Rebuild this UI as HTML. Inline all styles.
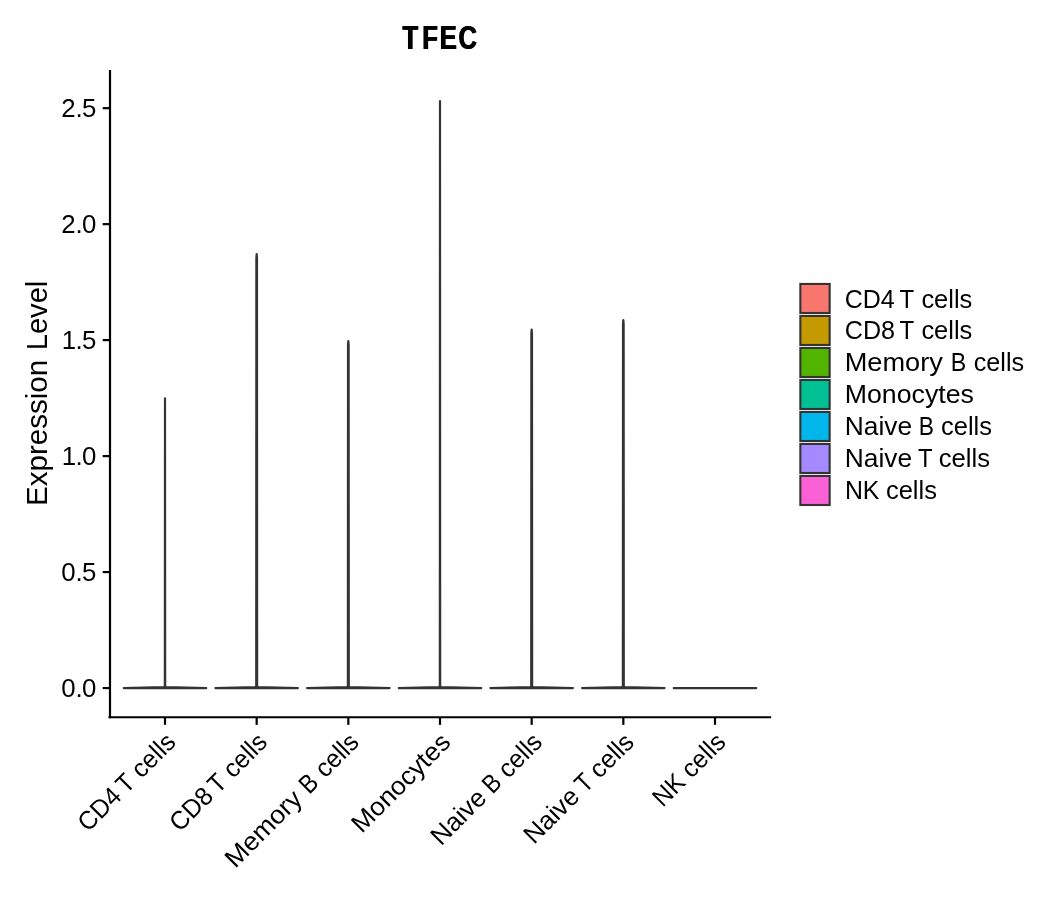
<!DOCTYPE html>
<html lang="en">
<head>
<meta charset="utf-8">
<title>TFEC</title>
<style>
html,body{margin:0;padding:0;background:#fff;}
body{width:1050px;height:900px;overflow:hidden;}
svg{display:block;}
text{font-family:"Liberation Sans", sans-serif;fill:#000;}
</style>
</head>
<body>
<svg width="1050" height="900" viewBox="0 0 1050 900">
<rect x="0" y="0" width="1050" height="900" fill="#ffffff"/>
<g fill="none" stroke="#333333" stroke-width="2.20" stroke-linejoin="round" stroke-linecap="round">
<path d="M123.75 688.05 L164.30 687.05 L164.85 685.85 L165.00 402.40 L165.00 398.40 L165.00 402.40 L165.15 685.85 L165.70 687.05 L206.25 688.05 Z" fill="#F8766D"/>
<path d="M215.42 688.05 L255.67 687.05 L256.22 685.85 L256.37 258.00 L256.67 254.00 L256.97 258.00 L257.12 685.85 L257.67 687.05 L297.92 688.05 Z" fill="#C49A00"/>
<path d="M307.08 688.05 L347.33 687.05 L347.88 685.85 L348.03 345.00 L348.33 341.00 L348.63 345.00 L348.78 685.85 L349.33 687.05 L389.58 688.05 Z" fill="#53B400"/>
<path d="M398.75 688.05 L439.30 687.05 L439.85 685.85 L440.00 105.00 L440.00 101.00 L440.00 105.00 L440.15 685.85 L440.70 687.05 L481.25 688.05 Z" fill="#00C094"/>
<path d="M490.42 688.05 L530.67 687.05 L531.22 685.85 L531.37 333.50 L531.67 329.50 L531.97 333.50 L532.12 685.85 L532.67 687.05 L572.92 688.05 Z" fill="#00B6EB"/>
<path d="M582.08 688.05 L622.33 687.05 L622.88 685.85 L623.03 324.00 L623.33 320.00 L623.63 324.00 L623.78 685.85 L624.33 687.05 L664.58 688.05 Z" fill="#A58AFF"/>
<path d="M673.75 688.05 L756.25 688.05 Z" fill="#FB61D7"/>
</g>
<g stroke="#000000" stroke-width="2.20" fill="none">
<path d="M110.00 70.00 L110.00 718.35" />
<path d="M108.50 717.25 L771.10 717.25" />
<path d="M102.70 688.05 L110.00 688.05" />
<path d="M102.70 572.07 L110.00 572.07" />
<path d="M102.70 456.10 L110.00 456.10" />
<path d="M102.70 340.12 L110.00 340.12" />
<path d="M102.70 224.15 L110.00 224.15" />
<path d="M102.70 108.17 L110.00 108.17" />
<path d="M165.00 717.25 L165.00 724.85" />
<path d="M256.67 717.25 L256.67 724.85" />
<path d="M348.33 717.25 L348.33 724.85" />
<path d="M440.00 717.25 L440.00 724.85" />
<path d="M531.67 717.25 L531.67 724.85" />
<path d="M623.33 717.25 L623.33 724.85" />
<path d="M715.00 717.25 L715.00 724.85" />
</g>
<text x="61.13 75.38 81.95" y="697.05" font-size="25.80">0.0</text>
<text x="61.13 75.38 81.95" y="581.07" font-size="25.80">0.5</text>
<text x="61.83 75.38 81.95" y="465.10" font-size="25.80">1.0</text>
<text x="61.83 75.38 81.95" y="349.12" font-size="25.80">1.5</text>
<text x="61.13 75.38 81.95" y="233.15" font-size="25.80">2.0</text>
<text x="61.13 75.38 81.95" y="117.17" font-size="25.80">2.5</text>
<text transform="translate(176.30 744.45) rotate(-45)" font-size="25.80" y="0"><tspan x="-124.90" textLength="49.37" lengthAdjust="spacingAndGlyphs">CD4</tspan> <tspan x="-70.83" textLength="14.07" lengthAdjust="spacingAndGlyphs">T</tspan> <tspan x="-49.27" textLength="50.29" lengthAdjust="spacingAndGlyphs">cells</tspan></text>
<text transform="translate(267.97 744.45) rotate(-45)" font-size="25.80" y="0"><tspan x="-124.91" textLength="49.62" lengthAdjust="spacingAndGlyphs">CD8</tspan> <tspan x="-70.83" textLength="14.07" lengthAdjust="spacingAndGlyphs">T</tspan> <tspan x="-49.27" textLength="50.29" lengthAdjust="spacingAndGlyphs">cells</tspan></text>
<text transform="translate(359.63 744.45) rotate(-45)" font-size="25.80" y="0"><tspan x="-176.05" textLength="96.84" lengthAdjust="spacingAndGlyphs">Memory</tspan> <tspan x="-71.42" textLength="15.28" lengthAdjust="spacingAndGlyphs">B</tspan> <tspan x="-48.67" textLength="49.67" lengthAdjust="spacingAndGlyphs">cells</tspan></text>
<text transform="translate(451.30 744.45) rotate(-45)" font-size="25.80" y="0"><tspan x="-126.57" textLength="127.51" lengthAdjust="spacingAndGlyphs">Monocytes</tspan></text>
<text transform="translate(542.97 744.45) rotate(-45)" font-size="25.80" y="0"><tspan x="-144.21" textLength="66.46" lengthAdjust="spacingAndGlyphs">Naive</tspan> <tspan x="-71.29" textLength="15.03" lengthAdjust="spacingAndGlyphs">B</tspan> <tspan x="-49.17" textLength="50.19" lengthAdjust="spacingAndGlyphs">cells</tspan></text>
<text transform="translate(634.63 744.45) rotate(-45)" font-size="25.80" y="0"><tspan x="-142.33" textLength="66.46" lengthAdjust="spacingAndGlyphs">Naive</tspan> <tspan x="-70.04" textLength="13.96" lengthAdjust="spacingAndGlyphs">T</tspan> <tspan x="-49.57" textLength="50.60" lengthAdjust="spacingAndGlyphs">cells</tspan></text>
<text transform="translate(726.30 744.45) rotate(-45)" font-size="25.80" y="0"><tspan x="-89.81" textLength="34.12" lengthAdjust="spacingAndGlyphs">NK</tspan> <tspan x="-49.27" textLength="50.29" lengthAdjust="spacingAndGlyphs">cells</tspan></text>
<defs><filter id="hb" filterUnits="userSpaceOnUse" x="380" y="10" width="130" height="55"><feOffset in="SourceGraphic" dx="1" dy="0" result="o"/><feMerge><feMergeNode in="SourceGraphic"/><feMergeNode in="o"/></feMerge></filter></defs>
<g filter="url(#hb)"><text transform="translate(400.00 49.00) scale(0.7600 1)" font-size="33.70" font-weight="bold" x="2.75 28.52 51.56 76.25" y="0">TFEC</text></g>
<text transform="translate(47.10 503.60) rotate(-90)" font-size="30.20" y="0"><tspan x="-2.36" textLength="146.14" lengthAdjust="spacingAndGlyphs">Expression</tspan> <tspan x="153.27" textLength="69.69" lengthAdjust="spacingAndGlyphs">Level</tspan></text>
<rect x="800.35" y="283.95" width="29.30" height="29.05" fill="#F8766D" stroke="#333333" stroke-width="2.10" stroke-linejoin="miter"/>
<text y="307.90" font-size="25.80"><tspan x="844.75" textLength="50.02" lengthAdjust="spacingAndGlyphs">CD4</tspan> <tspan x="899.53" textLength="14.26" lengthAdjust="spacingAndGlyphs">T</tspan> <tspan x="921.38" textLength="50.95" lengthAdjust="spacingAndGlyphs">cells</tspan></text>
<rect x="800.35" y="315.95" width="29.30" height="29.05" fill="#C49A00" stroke="#333333" stroke-width="2.10" stroke-linejoin="miter"/>
<text y="339.00" font-size="25.80"><tspan x="844.74" textLength="50.28" lengthAdjust="spacingAndGlyphs">CD8</tspan> <tspan x="899.53" textLength="14.26" lengthAdjust="spacingAndGlyphs">T</tspan> <tspan x="921.38" textLength="50.95" lengthAdjust="spacingAndGlyphs">cells</tspan></text>
<rect x="800.35" y="347.95" width="29.30" height="29.05" fill="#53B400" stroke="#333333" stroke-width="2.10" stroke-linejoin="miter"/>
<text y="371.00" font-size="25.80"><tspan x="844.73" textLength="98.11" lengthAdjust="spacingAndGlyphs">Memory</tspan> <tspan x="950.74" textLength="15.48" lengthAdjust="spacingAndGlyphs">B</tspan> <tspan x="973.79" textLength="50.33" lengthAdjust="spacingAndGlyphs">cells</tspan></text>
<rect x="800.35" y="379.95" width="29.30" height="29.05" fill="#00C094" stroke="#333333" stroke-width="2.10" stroke-linejoin="miter"/>
<text y="403.00" font-size="25.80"><tspan x="844.76" textLength="129.18" lengthAdjust="spacingAndGlyphs">Monocytes</tspan></text>
<rect x="800.35" y="411.95" width="29.30" height="29.05" fill="#00B6EB" stroke="#333333" stroke-width="2.10" stroke-linejoin="miter"/>
<text y="435.00" font-size="25.80"><tspan x="844.79" textLength="67.34" lengthAdjust="spacingAndGlyphs">Naive</tspan> <tspan x="918.67" textLength="15.23" lengthAdjust="spacingAndGlyphs">B</tspan> <tspan x="941.08" textLength="50.85" lengthAdjust="spacingAndGlyphs">cells</tspan></text>
<rect x="800.35" y="443.95" width="29.30" height="29.05" fill="#A58AFF" stroke="#333333" stroke-width="2.10" stroke-linejoin="miter"/>
<text y="467.00" font-size="25.80"><tspan x="844.79" textLength="67.34" lengthAdjust="spacingAndGlyphs">Naive</tspan> <tspan x="918.04" textLength="14.15" lengthAdjust="spacingAndGlyphs">T</tspan> <tspan x="938.77" textLength="51.27" lengthAdjust="spacingAndGlyphs">cells</tspan></text>
<rect x="800.35" y="475.95" width="29.30" height="29.05" fill="#FB61D7" stroke="#333333" stroke-width="2.10" stroke-linejoin="miter"/>
<text y="499.00" font-size="25.80"><tspan x="844.91" textLength="34.57" lengthAdjust="spacingAndGlyphs">NK</tspan> <tspan x="885.98" textLength="50.95" lengthAdjust="spacingAndGlyphs">cells</tspan></text>
</svg>
</body>
</html>
